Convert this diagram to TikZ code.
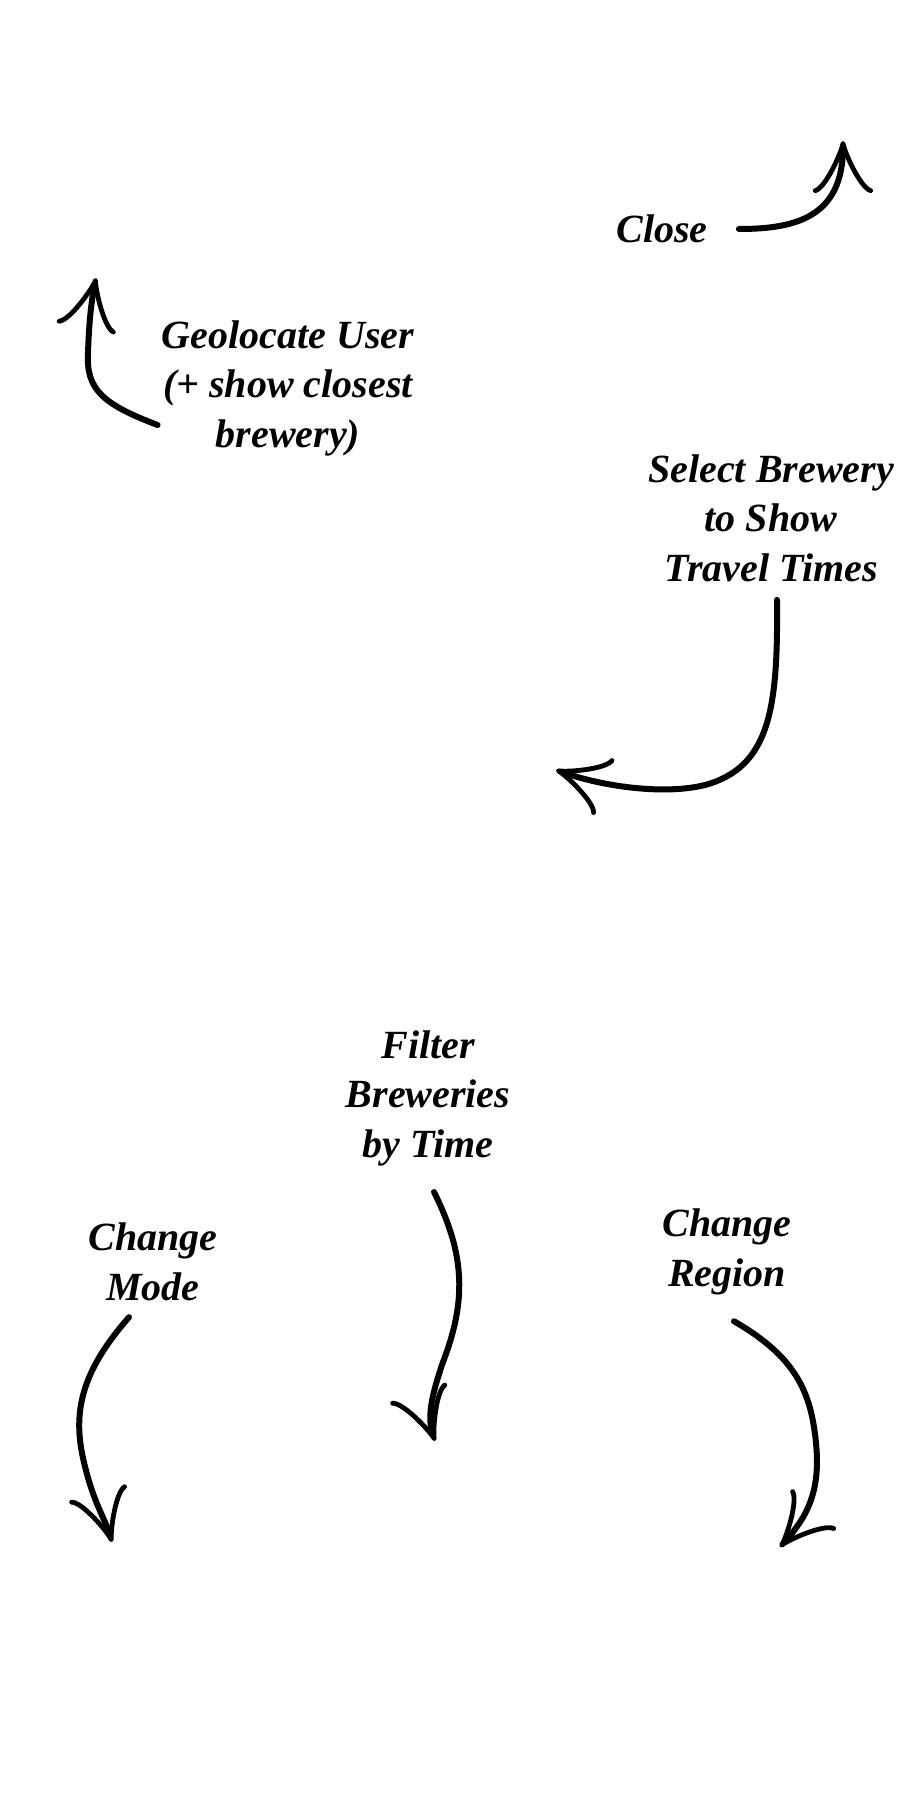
\documentclass[tikz,border=0pt]{standalone}
\usepackage{fontspec}
\setmainfont{Liberation Serif}
\usetikzlibrary{arrows.meta}

\begin{document}
\begin{tikzpicture}[x=1pt,y=-1pt,-{Classical TikZ Rightarrow[length=52pt,width=60pt]},line width=6pt,line cap=round,line join=round]
\tikzstyle{hint} = [align=center, font=\fontsize{40}{49.5}\selectfont\bfseries\itshape]
\useasboundingbox (0,0) rectangle (922,1818);
\node[hint] (close) at (662,229) {Close};
\node[hint] (geo) at (288,388) {Geolocate User\\(+ show closest\\brewery)};
\node[hint] (select) at (771,518) {Select Brewery\\to Show\\Travel Times};
\node[hint] (filter) at (428,1098) {Filter\\Breweries\\by Time};
\node[hint] (mode) at (153,1262) {Change\\Mode};
\node[hint] (region) at (727,1252) {Change\\Region};
\coordinate (closetip) at (843,141);
\coordinate (geotip) at (96,278);
\coordinate (selecttip) at (556,770);
\coordinate (filtertip) at (435,1441);
\coordinate (modetip) at (112,1542);
\coordinate (regiontip) at (780,1547);
\draw ([xshift=25pt]close.east) .. controls (796,229) and (843,217) .. (closetip);
\draw ([xshift=2pt,yshift=-37pt]geo.west) .. controls (102,404) and (86,389) .. (88,353)
      .. controls (89,323) and (91,303) .. (geotip);
\draw ([xshift=6pt,yshift=-12pt]select.south) .. controls (778,706) and (771,767) .. (705,785)
      .. controls (665,795) and (604,787) .. (selecttip);
\draw ([xshift=6pt,yshift=-20pt]filter.south) .. controls (466,1256) and (466,1302) .. (443,1362)
      .. controls (431,1397) and (427,1418) .. (filtertip);
\draw ([xshift=-24pt,yshift=-10pt]mode.south) .. controls (81,1372) and (73,1412) .. (83,1458)
      .. controls (93,1503) and (105,1518) .. (modetip);
\draw ([xshift=7pt,yshift=-20pt]region.south) .. controls (796,1357) and (811,1392) .. (816,1443)
      .. controls (821,1493) and (806,1518) .. (regiontip);
\end{tikzpicture}
\end{document}
